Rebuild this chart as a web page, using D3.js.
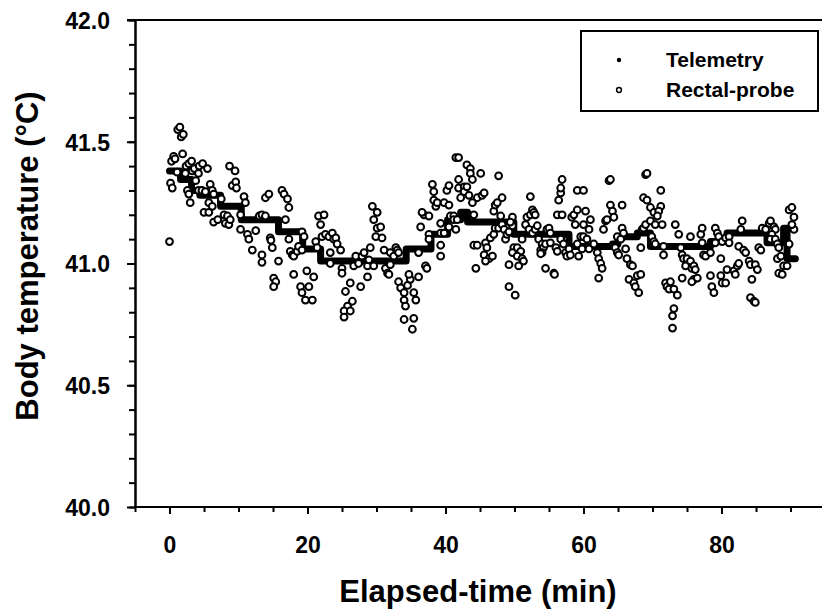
<!DOCTYPE html>
<html>
<head>
<meta charset="utf-8">
<script src="https://cdn.jsdelivr.net/npm/d3@7"></script>
<style>
  body { margin: 0; background: #fff; }
  svg text { font-family: "Liberation Sans", Arial, sans-serif; font-weight: bold; fill: #000; }
</style>
</head>
<body>
<svg id="chart" width="822" height="615"></svg>
<script>
// tick labels
const xTicks = [0, 20, 40, 60, 80];
const yTicks = [40.0, 40.5, 41.0, 41.5, 42.0];

// telemetry: step change points (min, °C)
const telemetryTime = [0, 1.6, 3.2, 4.4, 7.4, 10.4, 15.8, 19.3, 21.9, 34.3, 37.9, 40.3, 42.2, 43.2,
  49.9, 57.9, 64.2, 65.0, 67.8, 69.7, 78.4, 80.8, 86.6, 89.0, 89.5, 90.7];
const telemetryTemp = [41.38, 41.345, 41.30, 41.28, 41.235, 41.18, 41.13, 41.06, 41.01, 41.06, 41.12, 41.18, 41.21, 41.17,
  41.12, 41.07, 41.08, 41.11, 41.125, 41.07, 41.09, 41.125, 41.085, 41.145, 41.02, 41.02];

// rectal probe readings [min, °C]
const probeEarly = [
  [0.0, 41.09], [0.15, 41.33], [0.3, 41.42], [0.4, 41.31], [0.6, 41.44], [0.8, 41.43], [1.1, 41.375],
  [1.2, 41.55], [1.5, 41.56], [1.7, 41.52], [2.0, 41.53], [1.9, 41.45], [2.3, 41.37], [2.4, 41.40],
  [2.6, 41.30], [2.8, 41.285], [2.8, 41.41], [3.0, 41.25], [3.2, 41.42], [3.3, 41.38], [3.6, 41.39],
  [3.8, 41.34], [4.2, 41.37], [4.2, 41.30], [4.3, 41.40], [4.7, 41.30], [4.8, 41.41], [5.0, 41.21],
  [5.2, 41.295], [5.5, 41.39], [5.7, 41.21], [5.7, 41.25], [5.9, 41.325], [6.2, 41.30], [6.2, 41.235],
  [6.4, 41.285], [6.4, 41.17], [7.0, 41.18], [7.5, 41.265], [7.9, 41.20], [8.1, 41.165], [8.4, 41.195],
  [8.6, 41.16], [8.7, 41.40], [8.8, 41.18], [9.1, 41.32], [9.5, 41.38], [9.6, 41.335], [9.7, 41.31],
  [10.3, 41.20], [10.3, 41.14], [10.8, 41.275], [11.0, 41.25], [11.3, 41.12], [11.5, 41.10], [12.0, 41.055],
  [12.5, 41.135], [13.0, 41.195], [13.4, 41.20], [13.4, 41.035], [13.4, 41.005], [13.9, 41.195], [13.9, 41.27],
  [14.4, 41.285], [14.6, 41.105], [14.7, 41.095], [14.9, 41.065], [15.1, 40.94], [15.4, 40.925], [15.1, 40.905],
  [15.8, 41.01], [16.3, 41.30], [16.6, 41.285], [16.8, 41.18], [17.1, 41.265], [17.3, 41.23], [17.3, 41.10],
  [17.5, 41.05], [17.8, 41.035], [18.0, 41.03], [18.0, 40.955], [18.5, 41.05], [18.7, 41.07], [19.2, 41.055]
];
const probeMid = [
  [19.2, 41.13], [19.5, 41.11], [19.0, 40.905], [19.2, 40.88], [19.7, 40.85], [20.7, 40.85], [20.2, 40.905],
  [19.9, 40.97], [20.9, 40.945], [21.2, 41.09], [21.4, 41.065], [21.6, 41.195], [22.4, 41.20], [21.9, 41.16],
  [22.1, 41.11], [22.6, 41.12], [23.1, 41.11], [23.6, 41.125], [23.8, 41.10], [24.1, 41.105], [24.3, 41.08],
  [24.8, 41.055], [23.3, 41.045], [23.3, 41.00], [25.0, 40.98], [25.0, 40.96], [26.2, 40.92], [25.5, 40.885],
  [25.8, 40.825], [25.3, 40.805], [25.3, 40.78], [26.5, 40.845], [26.2, 40.805], [27.0, 41.03], [26.7, 40.99],
  [27.4, 41.00], [27.9, 41.03], [28.2, 41.045], [27.7, 40.905], [28.7, 40.99], [28.9, 41.015], [29.1, 41.065],
  [28.7, 40.945], [29.6, 40.99], [29.4, 41.235], [30.1, 41.21], [29.6, 41.18], [30.1, 41.145], [29.9, 41.11],
  [30.6, 41.15], [30.8, 41.105], [31.1, 41.055], [31.3, 40.98], [31.6, 40.96], [31.8, 40.955], [32.0, 40.995],
  [32.0, 41.045], [32.5, 41.03], [32.8, 41.065], [33.0, 41.055], [33.2, 41.045], [33.2, 40.925], [33.5, 40.90],
  [34.0, 40.88], [34.5, 40.91], [34.9, 40.935], [34.7, 40.955], [34.0, 40.85], [34.2, 40.825], [34.0, 40.77],
  [35.4, 40.775], [35.2, 40.73], [35.4, 40.88], [35.7, 40.85], [36.1, 40.945], [36.1, 41.045], [37.1, 40.99],
  [37.3, 40.98], [36.4, 41.15], [36.9, 41.20], [37.6, 41.195], [36.6, 41.21], [38.1, 41.325], [38.3, 41.295],
  [38.3, 41.26], [38.6, 41.235], [38.8, 41.25], [37.6, 41.12], [37.6, 41.10], [39.3, 41.165], [39.3, 41.125],
  [39.3, 41.075], [39.3, 41.03], [39.8, 41.25], [40.5, 41.24], [40.2, 41.30], [40.5, 41.32], [39.8, 41.125],
  [40.5, 41.15], [40.7, 41.195], [41.2, 41.195], [41.5, 41.14], [41.2, 41.18], [41.7, 41.18], [41.9, 41.345],
  [41.9, 41.31], [42.7, 41.315], [42.7, 41.295], [43.1, 41.315], [43.4, 41.28], [42.2, 41.27], [41.5, 41.435],
  [41.9, 41.435], [43.1, 41.405], [43.6, 41.39], [43.6, 41.37], [43.9, 41.345], [44.1, 41.075], [44.6, 41.075],
  [44.4, 40.98], [44.6, 41.27], [45.1, 41.37], [43.9, 41.25], [44.1, 41.20], [45.3, 41.28], [45.6, 41.29]
];
const probeLate = [
  [45.8, 41.085], [46.0, 41.065], [45.6, 41.035], [46.3, 41.02], [46.8, 41.03], [45.8, 41.01], [47.7, 41.36],
  [46.5, 41.105], [47.0, 41.12], [47.2, 41.145], [47.7, 41.145], [48.2, 41.16], [48.0, 41.195], [48.5, 41.14],
  [47.0, 41.215], [47.2, 41.24], [47.5, 41.25], [48.2, 41.27], [48.7, 41.10], [48.9, 41.12], [49.2, 41.13],
  [49.7, 41.19], [49.7, 41.155], [49.4, 41.17], [49.2, 40.995], [49.2, 40.905], [50.1, 40.87], [49.9, 41.065],
  [49.7, 41.045], [50.4, 41.065], [50.9, 41.05], [50.4, 41.03], [51.1, 41.02], [51.3, 41.01], [50.6, 40.99],
  [52.3, 41.275], [51.1, 41.10], [51.6, 41.16], [51.8, 41.19], [52.3, 41.20], [52.6, 41.22], [52.8, 41.21],
  [53.0, 41.20], [52.1, 41.14], [52.6, 41.125], [53.0, 41.14], [53.3, 41.155], [53.5, 41.10], [53.8, 41.055],
  [54.0, 41.08], [54.2, 41.065], [54.5, 41.08], [54.0, 41.045], [53.8, 41.04], [54.7, 41.14], [55.0, 41.145],
  [55.2, 41.125], [54.5, 40.98], [55.7, 40.96], [55.8, 40.955], [55.2, 41.085], [56.0, 41.065], [56.2, 41.05],
  [56.2, 41.20], [56.9, 41.20], [56.4, 41.26], [56.7, 41.29], [56.7, 41.31], [56.9, 41.345], [56.7, 41.10],
  [57.1, 41.08], [57.4, 41.045], [57.6, 41.03], [57.9, 41.06], [58.1, 41.035], [58.3, 41.19], [58.6, 41.20],
  [59.1, 41.22], [58.8, 41.16], [59.1, 41.30], [60.0, 41.30], [59.1, 41.08], [59.6, 41.11], [60.0, 41.11],
  [60.5, 41.10], [60.0, 41.16], [60.8, 41.14], [60.3, 41.215], [61.0, 41.18], [59.3, 41.03], [59.8, 41.06],
  [60.8, 41.06], [61.5, 41.08], [62.0, 41.045], [62.2, 41.02], [62.5, 41.00], [62.7, 40.98], [62.2, 40.94],
  [62.9, 41.14], [63.2, 41.175], [63.4, 41.18], [63.7, 41.34], [63.9, 41.345], [63.9, 41.24], [64.2, 41.215],
  [64.4, 41.19], [64.6, 41.065], [64.9, 41.045], [65.1, 41.035], [64.9, 41.11], [65.4, 41.10], [65.6, 41.24],
  [65.6, 41.145], [65.8, 41.125], [66.1, 41.06], [66.3, 41.02], [66.8, 40.995], [67.1, 40.99], [66.6, 40.935],
  [67.3, 40.92], [67.5, 40.905], [68.0, 40.88], [67.8, 40.95], [68.3, 40.955], [68.3, 41.065], [68.5, 41.14],
  [68.7, 41.145], [69.0, 41.16], [68.7, 41.27], [69.2, 41.26], [69.0, 41.365], [69.2, 41.37]
];
const probeEnd = [
  [69.7, 41.23], [70.2, 41.21], [71.2, 41.30], [71.2, 41.235], [70.9, 41.215], [70.7, 41.195], [69.7, 41.175],
  [70.4, 41.16], [71.4, 41.16], [69.9, 41.11], [70.2, 41.09], [70.4, 41.08], [71.6, 41.07], [71.6, 41.035],
  [71.9, 40.92], [72.1, 40.905], [72.6, 40.925], [72.4, 40.895], [73.1, 40.895], [73.6, 40.87], [73.1, 40.815],
  [72.9, 40.785], [72.9, 40.735], [73.3, 41.16], [73.8, 41.12], [74.1, 41.065], [74.3, 41.035], [74.5, 41.02],
  [75.0, 41.02], [74.8, 40.99], [75.5, 41.01], [75.7, 40.98], [76.0, 40.99], [76.2, 40.975], [76.0, 40.935],
  [75.7, 40.925], [76.5, 40.94], [74.3, 40.94], [75.5, 41.11], [77.0, 41.12], [77.2, 41.145], [77.2, 41.085],
  [77.4, 41.035], [77.7, 41.03], [78.4, 41.045], [78.4, 40.95], [78.6, 40.905], [78.9, 40.88], [79.9, 40.95],
  [80.1, 40.92], [80.6, 40.92], [80.8, 40.975], [79.1, 41.145], [79.4, 41.125], [79.6, 41.11], [79.1, 41.085],
  [79.9, 41.02], [80.1, 41.09], [80.6, 41.105], [81.1, 41.11], [81.1, 41.085], [81.8, 40.97], [82.0, 40.955],
  [82.3, 40.99], [82.5, 41.00], [82.8, 41.14], [83.0, 41.175], [82.5, 41.07], [83.2, 41.055], [83.5, 41.045],
  [84.0, 41.01], [84.2, 40.995], [84.4, 40.935], [84.9, 40.995], [85.2, 40.975], [84.2, 40.86], [84.7, 40.845],
  [84.9, 40.84], [85.4, 41.065], [85.7, 41.055], [85.9, 41.145], [86.4, 41.14], [86.9, 41.165], [87.1, 41.175],
  [87.6, 41.15], [87.8, 41.14], [87.3, 41.12], [87.1, 41.10], [87.8, 41.10], [88.1, 41.08], [88.3, 41.065],
  [88.1, 41.02], [88.6, 41.03], [88.3, 40.96], [88.8, 40.955], [89.0, 40.99], [89.5, 40.99], [89.8, 41.08],
  [89.8, 41.22], [90.2, 41.23], [90.5, 41.19], [90.5, 41.14], [90.2, 41.16]
];
const rectalProbe = probeEarly.concat(probeMid, probeLate, probeEnd);

const svg = d3.select("#chart");
const x = d3.scaleLinear().domain([-5, 95]).range([135, 825]);
const y = d3.scaleLinear().domain([40, 42]).range([507, 20]);

// frame top line
svg.append("line")
  .attr("x1", 127).attr("x2", 822)
  .attr("y1", y(42)).attr("y2", y(42))
  .attr("stroke", "#000").attr("stroke-width", 2);

// y axis: minor + major ticks
svg.append("g")
  .attr("transform", "translate(135,0)")
  .call(d3.axisLeft(y).tickValues(d3.range(40, 42.01, 0.1)).tickSize(6).tickSizeOuter(0).tickFormat(""))
  .call(g => g.selectAll("path,line").attr("stroke-width", 2));
svg.append("g")
  .attr("transform", "translate(135,0)")
  .call(d3.axisLeft(y).tickValues(yTicks).tickSize(8).tickSizeOuter(0).tickPadding(17).tickFormat(d3.format(".1f")))
  .call(g => g.selectAll("path,line").attr("stroke-width", 2))
  .call(g => g.selectAll("text").attr("font-size", 23).attr("font-family", null).attr("dy", "0.36em"));

// x axis
svg.append("g")
  .attr("transform", "translate(0,507)")
  .call(d3.axisBottom(x).tickValues(d3.range(-5, 96, 5)).tickSize(5).tickSizeOuter(0).tickFormat(""))
  .call(g => g.select(".domain").remove())
  .call(g => g.selectAll("line").attr("stroke-width", 2));
svg.append("g")
  .attr("transform", "translate(0,507)")
  .call(d3.axisBottom(x).tickValues(xTicks).tickSize(7).tickSizeOuter(0).tickPadding(18))
  .call(g => g.select(".domain").attr("d", "M135,0H822"))
  .call(g => g.selectAll("path,line").attr("stroke-width", 2))
  .call(g => g.selectAll("text").attr("font-size", 23).attr("font-family", null).attr("dy", "0.9em"));

// axis titles
svg.append("text")
  .attr("x", 478).attr("y", 602)
  .attr("text-anchor", "middle")
  .attr("font-size", 31)
  .text("Elapsed-time (min)");
svg.append("text")
  .attr("transform", "translate(38,256) rotate(-90)")
  .attr("text-anchor", "middle")
  .attr("font-size", 31)
  .text("Body temperature (°C)");

// telemetry step trace
const telemetry = telemetryTime.map((t, i) => [t, telemetryTemp[i]]);
svg.append("path")
  .datum(telemetry)
  .attr("fill", "none")
  .attr("stroke", "#000")
  .attr("stroke-width", 7)
  .attr("stroke-linejoin", "round")
  .attr("stroke-linecap", "round")
  .attr("d", d3.line().x(d => x(d[0])).y(d => y(d[1])).curve(d3.curveStepAfter));

// rectal probe points
svg.append("g")
  .selectAll("circle")
  .data(rectalProbe)
  .join("circle")
  .attr("cx", d => x(d[0]))
  .attr("cy", d => y(d[1]))
  .attr("r", 3.4)
  .attr("fill", "#fff")
  .attr("stroke", "#000")
  .attr("stroke-width", 2);

// legend
const legend = svg.append("g");
legend.append("rect")
  .attr("x", 581).attr("y", 31).attr("width", 237).attr("height", 80)
  .attr("fill", "#fff").attr("stroke", "#000").attr("stroke-width", 2);
legend.append("circle").attr("cx", 619).attr("cy", 60).attr("r", 2.2).attr("fill", "#000");
legend.append("circle").attr("cx", 619).attr("cy", 90).attr("r", 2.4)
  .attr("fill", "#fff").attr("stroke", "#000").attr("stroke-width", 1.5);
legend.append("text").attr("x", 666).attr("y", 67).attr("font-size", 21).text("Telemetry");
legend.append("text").attr("x", 666).attr("y", 97).attr("font-size", 21).text("Rectal-probe");
</script>
</body>
</html>
